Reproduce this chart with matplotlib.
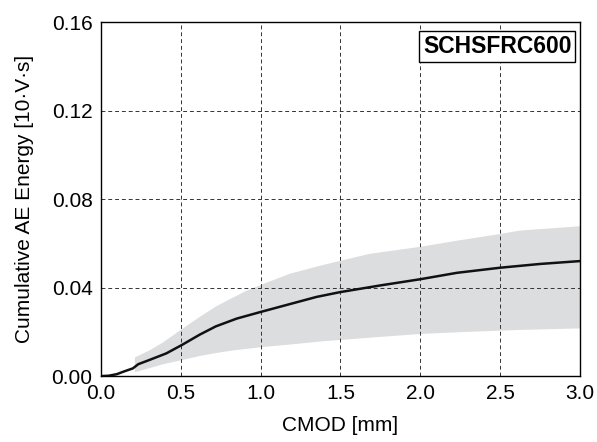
import numpy as np
import matplotlib
matplotlib.use("Agg")
import matplotlib.pyplot as plt

plt.rcParams['font.family'] = ['Liberation Sans', 'DejaVu Sans']

# mean curve
cmod_mean = [0.0, 0.05, 0.10, 0.14, 0.20, 0.234, 0.30, 0.41, 0.505, 0.62, 0.72, 0.85,
             1.0, 1.18, 1.35, 1.5, 1.75, 2.0, 2.23, 2.5, 2.75, 3.0]
energy_mean = [0.0, 0.0002, 0.0009, 0.002, 0.0035, 0.0054, 0.0072, 0.0103, 0.014,
               0.0188, 0.0225, 0.026, 0.029, 0.0325, 0.0358, 0.038, 0.041, 0.0438,
               0.0467, 0.049, 0.0507, 0.052]

# scatter band (upper / lower)
cmod_band = [0.21, 0.30, 0.38, 0.505, 0.62, 0.72, 0.81, 0.9, 1.0, 1.18, 1.39, 1.5,
             1.68, 2.0, 2.25, 2.5, 2.62, 3.0]
energy_upper = [0.0087, 0.0118, 0.0152, 0.0215, 0.0272, 0.0318, 0.0352, 0.0385, 0.0415,
                0.0465, 0.0505, 0.0524, 0.0555, 0.0587, 0.0617, 0.0645, 0.066, 0.068]
energy_lower = [0.002, 0.0038, 0.0055, 0.0075, 0.0094, 0.0107, 0.0117, 0.0125, 0.0133,
                0.0145, 0.016, 0.0166, 0.0176, 0.0193, 0.0201, 0.0208, 0.0211, 0.0218]

fig = plt.figure(figsize=(5.97, 4.42), dpi=100)
ax = fig.add_axes([0.169, 0.149, 0.8025, 0.801])

ax.fill_between(cmod_band, energy_lower, energy_upper, color="#dcdddf", lw=0, zorder=1)
ax.plot(cmod_mean, energy_mean, color="#111111", lw=1.8, zorder=3)

ax.set_xlim(0, 3.0)
ax.set_ylim(0, 0.16)
ax.set_xticks(np.arange(0, 3.01, 0.5))
ax.set_yticks(np.arange(0, 0.161, 0.04))
ax.set_xticklabels([f"{v:.1f}" for v in np.arange(0, 3.01, 0.5)])
ax.set_yticklabels([f"{v:.2f}" for v in np.arange(0, 0.161, 0.04)])
ax.tick_params(direction="in", length=0, labelsize=15, pad=6)
ax.grid(True, ls=(0, (4, 3)), color="#333333", lw=0.7, zorder=2)
ax.set_axisbelow(False)
for s in ax.spines.values():
    s.set_linewidth(1.0)
    s.set_zorder(4)

ax.set_xlabel("CMOD [mm]", fontsize=15, labelpad=9)
ax.set_ylabel("Cumulative AE Energy [10·V·s]", fontsize=15, labelpad=13)

ax.text(0.982, 0.932, "SCHSFRC600", transform=ax.transAxes, ha="right", va="center",
        fontsize=16.5, fontweight="bold", zorder=5,
        bbox=dict(boxstyle="square,pad=0.18", fc="white", ec="black", lw=1.0))

fig.savefig("out.png", dpi=100)
